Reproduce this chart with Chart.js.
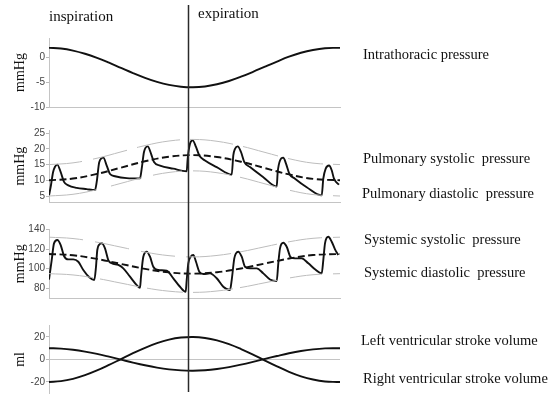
<!DOCTYPE html>
<html>
<head>
<meta charset="utf-8">
<script src="https://cdn.jsdelivr.net/npm/chart.js@4.4.1/dist/chart.umd.min.js"></script>
<style>
  html, body { margin: 0; padding: 0; background: #fff; }
  #wrap { position: relative; width: 549px; height: 394px; overflow: hidden;
          font-family: "Liberation Serif", "Times New Roman", serif; color: #111; }
  #wrap canvas { position: absolute; left: 0; }
  .lbl { position: absolute; font-size: 14.5px; line-height: 1; white-space: pre; }
  .phase { position: absolute; font-size: 15px; line-height: 1; white-space: pre; }
</style>
</head>
<body>
<div id="wrap">
  <canvas id="cThorax" width="549" height="120" style="top:0px"></canvas>
  <canvas id="cPulm" width="549" height="100" style="top:112px"></canvas>
  <canvas id="cSys" width="549" height="100" style="top:208px"></canvas>
  <canvas id="cSV" width="549" height="100" style="top:303px"></canvas>

  <div class="phase" style="left:49px;top:9px">inspiration</div>
  <div class="phase" style="left:198px;top:6px">expiration</div>

  <div class="lbl" style="left:363px;top:47px">Intrathoracic pressure</div>
  <div class="lbl" style="left:363px;top:151px">Pulmonary systolic  pressure</div>
  <div class="lbl" style="left:362px;top:185.5px">Pulmonary diastolic  pressure</div>
  <div class="lbl" style="left:364px;top:232px">Systemic systolic  pressure</div>
  <div class="lbl" style="left:364px;top:264.5px">Systemic diastolic  pressure</div>
  <div class="lbl" style="left:361px;top:333px">Left ventricular stroke volume</div>
  <div class="lbl" style="left:363px;top:371px">Right ventricular stroke volume</div>
</div>

<script>
// Time axis of one respiratory cycle (arbitrary units); the end of inspiration
const cycleEnd = 291;
const endInspiration = 139.3;

// Slow respiratory curves
const respT = [0, 12, 24, 36, 48, 60, 72, 84, 96, 108, 120, 132, 144, 156, 168, 180, 192, 204, 216, 228, 240, 252, 264, 276, 288, 291];
const intrathoracic = [2, 1.86, 1.45, 0.8, -0.04, -1.02, -2.07, -3.11, -4.07, -4.9, -5.52, -5.89, -6, -5.83, -5.38, -4.72, -3.85, -2.86, -1.8, -0.77, 0.2, 1.0, 1.57, 1.92, 2, 2];
const lvStrokeVolume = [-20, -19.3, -17.26, -14.02, -9.82, -4.9, 0.32, 5.54, 10.36, 14.48, 17.6, 19.46, 20, 19.12, 16.92, 13.6, 9.24, 4.3, -0.98, -6.14, -11, -15, -17.86, -19.6, -20, -20];
const rvStrokeVolume = [10, 9.65, 8.63, 7.01, 4.91, 2.45, -0.16, -2.77, -5.18, -7.24, -8.8, -9.73, -10, -9.56, -8.46, -6.8, -4.62, -2.15, 0.49, 3.07, 5.5, 7.5, 8.93, 9.8, 10, 10];

// Mean trend and systolic / diastolic envelopes
const trendT = [0, 24, 48, 72, 96, 120, 144, 168, 192, 216, 240, 264, 291];
const pulmMean  = [10, 10.55, 12.02, 14.04, 16.05, 17.5, 18, 17.41, 15.9, 13.87, 11.87, 10.46, 10];
const pulmUpper = [15, 15.55, 17.02, 19.04, 21.05, 22.5, 23, 22.41, 20.9, 18.87, 16.87, 15.46, 15];
const pulmLower = [5, 5.55, 7.02, 9.04, 11.05, 12.5, 13, 12.41, 10.9, 8.87, 6.87, 5.46, 5];
const sysMean   = [115, 113.63, 109.94, 104.89, 99.87, 96.26, 95, 96.48, 100.25, 105.32, 110.33, 113.86, 115];
const sysUpper  = [132, 130.63, 126.94, 121.89, 116.87, 113.26, 112, 113.48, 117.25, 122.32, 127.33, 130.86, 132];
const sysLower  = [95, 93.7, 90.19, 85.4, 80.63, 77.2, 76, 77.4, 80.99, 85.8, 90.56, 93.92, 95];

// Breaks in the envelope lines between beats (time intervals)
const pulmUpperBreaks = [[33, 44], [78, 88], [131, 141], [184, 194], [229, 239], [274, 284]];
const pulmLowerBreaks = [[48, 62], [93, 104], [133, 144], [181, 191], [228, 241], [273, 284]];
const sysUpperBreaks  = [[34, 46], [80, 92], [126, 137], [182, 191], [228, 239], [273, 284]];
const sysLowerBreaks  = [[44, 51], [90, 98], [134, 144], [184, 191], [228, 241], [273, 284]];

// Beat-by-beat pulmonary artery pressure
const pulmT = [0, 2, 4, 6, 8.3, 11.7, 15, 19.3, 27.7, 37.7, 46, 47.7, 50.3, 54.3, 57.7, 61, 66, 77.7, 91, 92.7, 95, 98.7, 102, 105, 111, 124.3, 137.7, 138.7, 141, 143.7, 147, 150.3, 156, 167.7, 182.7, 184.3, 186, 188.7, 192, 195.3, 201, 214.3, 227.7, 228.7, 231, 234.3, 237, 240.3, 246, 257.7, 272.7, 274.3, 276.7, 280, 282.7, 285, 290];
const pulmPressure = [5.2, 8.5, 12.5, 14.3, 15, 12.6, 9.5, 8.4, 7.6, 7.2, 6.9, 9.5, 15.8, 17.2, 14.7, 12, 11.3, 10.7, 10.6, 13.7, 19, 20.8, 18.5, 15.8, 14.7, 13.7, 12.9, 16.9, 21.6, 22.7, 20.6, 17.9, 16.3, 14.2, 11.8, 17.9, 20, 20.8, 19, 15.8, 14.2, 11, 8.0, 12.6, 16.3, 17.2, 15.3, 12.1, 10.5, 7.8, 5.2, 10.5, 13.7, 14.7, 13.2, 10.5, 8.6];

// Beat-by-beat systemic arterial pressure
const sysT = [0, 2.7, 5, 8.3, 11.7, 15, 19.3, 24.3, 29.3, 34.3, 40.3, 45.3, 47, 48.3, 51, 52.7, 56, 59.3, 62.7, 69.3, 74.3, 81, 87.7, 91, 92, 94.3, 97.7, 101, 104.3, 109.3, 117.7, 124.3, 131, 136.7, 137.7, 139.3, 141.7, 144.3, 147, 150.3, 154.3, 161, 167.7, 174.3, 181, 182.7, 185.3, 187, 189.3, 192.7, 196, 201, 207.7, 214.3, 221, 227.7, 229.3, 231, 234.3, 237.7, 241.7, 246, 252.7, 259.3, 266, 272.7, 274.3, 276, 279.3, 282.7, 286, 289.3];
const sysPressure = [89, 108.8, 125.7, 129.1, 124, 112.9, 109.5, 109.5, 107.1, 98.7, 91.3, 88.5, 102, 119, 125.1, 125.8, 120.7, 108.8, 105.5, 103.8, 100.4, 91.9, 83.4, 80.7, 91.9, 112.2, 117.3, 112.2, 102, 98.7, 98, 90.3, 81.7, 76.7, 88.5, 105.5, 112.2, 113.9, 107.1, 97, 94.6, 95.3, 90.3, 81.7, 78.4, 88.5, 110.5, 115.6, 117.3, 112.2, 102, 100.4, 100.4, 95.3, 89.1, 87.5, 105.5, 120.7, 126.4, 122.3, 111.6, 110.5, 110.5, 105.5, 99.4, 95.3, 108.8, 125.8, 132.5, 127.4, 119.7, 113.9];

// Y-axis ranges and tick labels for each strip
const thoraxRange = [-10, 4];
const thoraxTicks = [-10, -5, 0];
const pulmRange = [3, 26];
const pulmTicks = [5, 10, 15, 20, 25];
const sysRange = [70, 140];
const sysTicks = [80, 100, 120, 140];
const svRange = [-30, 30];
const svTicks = [-20, 0, 20];

const pts = (xs, ys) => xs.map((x, i) => ({ x, y: ys[i] }));

const INK = '#111';
const ENVELOPE = '#bdbdbd';
const AXIS = '#c4c4c4';

const solid = (xs, ys, monotone) => ({
  data: pts(xs, ys), borderColor: INK, borderWidth: 1.9, fill: false,
  tension: 0.4, cubicInterpolationMode: monotone ? 'monotone' : 'default'
});
const dashed = (xs, ys) => ({
  data: pts(xs, ys), borderColor: INK, borderWidth: 1.9, borderDash: [7, 3.5], fill: false, tension: 0.4
});
const envelope = (xs, ys, breaks) => ({
  data: pts(xs, ys), borderColor: ENVELOPE, borderWidth: 1, fill: false, tension: 0.4, breaks
});

// Leaves the envelope lines interrupted between successive beats
const envelopeBreaks = {
  id: 'envelopeBreaks',
  beforeDatasetDraw(chart, args) {
    const breaks = chart.data.datasets[args.index].breaks;
    if (!breaks) return;
    const { ctx, chartArea: a, scales: { x } } = chart;
    ctx.save();
    ctx.beginPath();
    let from = a.left;
    for (const [b0, b1] of breaks) {
      const p0 = x.getPixelForValue(b0);
      ctx.rect(from, 0, p0 - from, chart.height);
      from = x.getPixelForValue(b1);
    }
    ctx.rect(from, 0, a.right - from, chart.height);
    ctx.clip();
  },
  afterDatasetDraw(chart, args) {
    if (chart.data.datasets[args.index].breaks) chart.ctx.restore();
  }
};

// Vertical line marking the switch from inspiration to expiration
const phaseMarker = {
  id: 'phaseMarker',
  afterDatasetsDraw(chart, args, opts) {
    const x = Math.round(chart.scales.x.getPixelForValue(opts.at)) + 0.5;
    const ctx = chart.ctx;
    ctx.save();
    ctx.strokeStyle = '#2a2a2a';
    ctx.lineWidth = 1.5;
    ctx.beginPath();
    ctx.moveTo(x, opts.from);
    ctx.lineTo(x, opts.to);
    ctx.stroke();
    ctx.restore();
  }
};

function strip(id, datasets, range, tickValues, title, pad, marker, bottomLine, zeroLine) {
  return new Chart(document.getElementById(id), {
    type: 'line',
    data: { datasets },
    plugins: [envelopeBreaks, phaseMarker],
    options: {
      responsive: false,
      animation: false,
      devicePixelRatio: 1,
      layout: { padding: { left: 0, right: 209, top: pad.top, bottom: pad.bottom } },
      elements: { point: { radius: 0 } },
      plugins: {
        legend: { display: false },
        tooltip: { enabled: false },
        phaseMarker: { at: endInspiration, from: marker[0], to: marker[1] }
      },
      scales: {
        x: {
          type: 'linear', min: 0, max: cycleEnd,
          ticks: { display: false },
          grid: { display: false },
          border: { display: bottomLine, color: AXIS, width: 1 },
          afterFit(s) { s.height = 0; }
        },
        y: {
          min: range[0], max: range[1],
          afterFit(s) { s.width = 49; },
          afterBuildTicks(s) { s.ticks = tickValues.map(v => ({ value: v })); },
          ticks: {
            padding: 1,
            color: '#444', font: { family: 'Liberation Sans', size: 10 }
          },
          grid: {
            drawOnChartArea: zeroLine,
            color: c => (zeroLine && c.tick && c.tick.value === 0) ? AXIS : 'rgba(0,0,0,0)',
            tickColor: '#bbb', tickLength: 3
          },
          border: { color: AXIS, width: 1 },
          title: {
            display: true, text: title, color: INK,
            font: { family: 'Liberation Serif', size: 14 },
            padding: { top: 11.5, bottom: 0 }
          }
        }
      }
    }
  });
}

strip('cThorax', [solid(respT, intrathoracic)], thoraxRange, thoraxTicks, 'mmHg',
      { top: 38, bottom: 13 }, [5, 112], true, false);

strip('cPulm', [
  envelope(trendT, pulmUpper, pulmUpperBreaks), envelope(trendT, pulmLower, pulmLowerBreaks),
  dashed(trendT, pulmMean), solid(pulmT, pulmPressure, true)
], pulmRange, pulmTicks, 'mmHg', { top: 18, bottom: 9.7 }, [0, 96], true, false);

strip('cSys', [
  envelope(trendT, sysUpper, sysUpperBreaks), envelope(trendT, sysLower, sysLowerBreaks),
  dashed(trendT, sysMean), solid(sysT, sysPressure, true)
], sysRange, sysTicks, 'mmHg', { top: 21.3, bottom: 9.7 }, [0, 95], true, false);

strip('cSV', [solid(respT, lvStrokeVolume), solid(respT, rvStrokeVolume)],
      svRange, svTicks, 'ml', { top: 22.7, bottom: 9.8 }, [0, 89], false, true);
</script>
</body>
</html>
